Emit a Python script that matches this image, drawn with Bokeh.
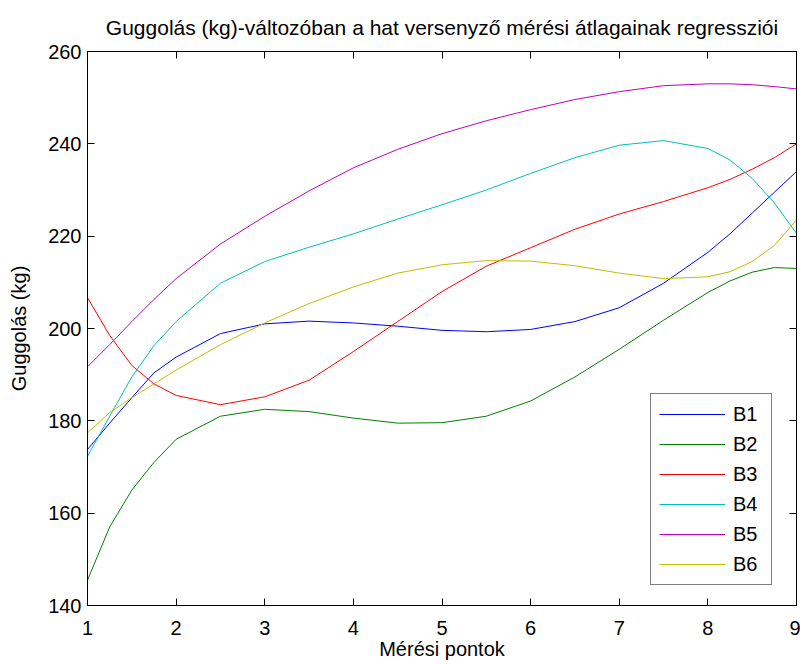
from bokeh.plotting import figure
from bokeh.models import LinearAxis, Range1d, Legend, LegendItem, FixedTicker
from bokeh.embed import file_html
from bokeh.resources import INLINE

x_vals = [1, 1.25, 1.5, 1.75, 2, 2.5, 3, 3.5, 4, 4.5, 5, 5.5, 6, 6.5, 7, 7.5, 8, 8.25, 8.5, 8.75, 9]
b1 = [173.8, 179.5, 185, 190.4, 193.8, 198.9, 201, 201.6, 201.2, 200.5, 199.6, 199.3, 199.8, 201.5, 204.5, 209.8, 216.5, 220.5, 225, 229.5, 234]
b2 = [145.5, 157, 165, 171, 176, 181, 182.5, 182, 180.6, 179.5, 179.6, 181, 184.3, 189.5, 195.5, 201.8, 207.8, 210.3, 212.2, 213.2, 213]
b3 = [206.7, 198.5, 192, 188, 185.5, 183.5, 185.2, 188.8, 195, 201.5, 208, 213.5, 217.5, 221.5, 224.8, 227.5, 230.5, 232.3, 234.5, 237, 240]
b4 = [172.3, 181, 189.5, 196.3, 201.5, 209.8, 214.5, 217.6, 220.5, 223.7, 226.8, 230, 233.6, 237, 239.7, 240.7, 239, 236.5, 232.5, 227.2, 220.6]
b5 = [191.7, 196.5, 201.5, 206.3, 210.8, 218.3, 224.3, 229.8, 234.8, 238.8, 242.2, 245, 247.4, 249.6, 251.3, 252.6, 253, 253, 252.8, 252.4, 251.9]
b6 = [177.4, 181.8, 185, 188, 191, 196.5, 201.2, 205.4, 209, 212, 213.8, 214.7, 214.6, 213.6, 212, 210.8, 211.2, 212.3, 214.5, 218, 223.5]

series_names = ["B1", "B2", "B3", "B4", "B5", "B6"]
series_vals = [b1, b2, b3, b4, b5, b6]
colors = ["#0000ff", "#008000", "#ff0000", "#00bfbf", "#bf00bf", "#bfbf00"]
x_ticks = [1, 2, 3, 4, 5, 6, 7, 8, 9]
y_ticks = [140, 160, 180, 200, 220, 240, 260]

FONT = "Liberation Sans"

p = figure(width=800, height=662, output_backend="svg", toolbar_location=None,
           x_range=Range1d(1, 9), y_range=Range1d(140, 260),
           min_border_left=87, min_border_right=4, min_border_top=50, min_border_bottom=53,
           background_fill_color="white", border_fill_color="white")
p.grid.visible = False
p.outline_line_color = "black"
p.outline_line_width = 1

p.title.text = "Guggolás (kg)-változóban a hat versenyző mérési átlagainak regressziói"
p.title.align = "center"
p.title.text_font = FONT
p.title.text_font_size = "21px"
p.title.text_font_style = "normal"
p.title.text_color = "black"
p.title.standoff = 26

for ax in (p.xaxis[0], p.yaxis[0]):
    ax.major_tick_in = 7
    ax.major_tick_out = 0
    ax.minor_tick_in = 0
    ax.minor_tick_out = 0
    ax.axis_line_color = "black"
    ax.major_tick_line_color = "black"
    ax.major_label_text_font = FONT
    ax.major_label_text_font_size = "20px"
    ax.major_label_text_color = "black"
    ax.axis_label_text_font = FONT
    ax.axis_label_text_font_size = "20px"
    ax.axis_label_text_font_style = "normal"
    ax.axis_label_text_color = "black"

p.xaxis[0].ticker = FixedTicker(ticks=x_ticks)
p.yaxis[0].ticker = FixedTicker(ticks=y_ticks)
p.xaxis[0].axis_label = "Mérési pontok"
p.yaxis[0].axis_label = "Guggolás (kg)"
p.xaxis[0].major_label_standoff = 15
p.yaxis[0].major_label_standoff = 6
p.xaxis[0].axis_label_standoff = 0
p.yaxis[0].axis_label_standoff = 15

for loc, tk in (("above", x_ticks), ("right", y_ticks)):
    ax = LinearAxis(ticker=FixedTicker(ticks=tk))
    ax.major_tick_in = 7
    ax.major_tick_out = 0
    ax.minor_tick_in = 0
    ax.minor_tick_out = 0
    ax.major_label_text_color = None
    ax.major_label_text_font_size = "1px"
    ax.major_label_standoff = 0
    ax.axis_line_color = "black"
    ax.major_tick_line_color = "black"
    p.add_layout(ax, loc)

items = []
for name, vals, c in zip(series_names, series_vals, colors):
    r = p.line(x_vals, vals, line_color=c, line_width=1)
    items.append(LegendItem(label=name, renderers=[r]))

legend = Legend(items=items, location=(563, 20))
legend.border_line_color = "black"
legend.border_line_width = 1
legend.background_fill_color = "white"
legend.background_fill_alpha = 1
legend.label_text_font = FONT
legend.label_text_font_size = "20px"
legend.label_text_color = "black"
legend.glyph_width = 66
legend.glyph_height = 24
legend.label_height = 24
legend.label_width = 30
legend.label_standoff = 8
legend.spacing = 6
legend.padding = 8
legend.margin = 0
p.add_layout(legend, "center")

open("out.html", "w").write(file_html(p, INLINE))
